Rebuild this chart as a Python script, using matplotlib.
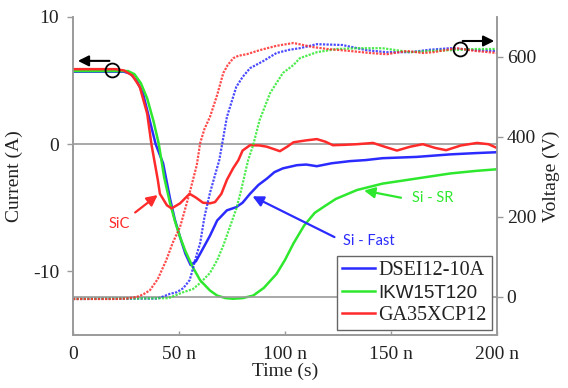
import matplotlib
matplotlib.use("Agg")
import matplotlib.pyplot as plt

plt.rcParams['axes.unicode_minus'] = False

# time in ns
t_red_i = [0, 20, 24, 28, 31.5, 35, 37, 40, 41, 44.3, 46.5, 50.5, 55, 58, 61.3, 64.6, 67, 70, 72.6, 75.5,
           78, 80, 83.5, 88, 91.5, 97.6, 101, 104, 110, 115, 119, 122.6, 128, 134, 141.5, 147,
           152.8, 159, 165, 171, 176, 183, 190.6, 196, 200]
i_red = [5.9, 5.9, 5.8, 5.4, 4.5, 2.4, 0.0, -2.8, -3.9, -4.8, -5.05, -4.65, -3.9, -4.2, -4.6, -4.65, -4.55,
         -3.9, -2.8, -1.9, -1.26, -0.5, -0.08, -0.1, -0.2, -0.55, -0.2, 0.15, 0.3, 0.4, 0.2, -0.08,
         -0.05, 0.0, 0.1, -0.2, -0.5, -0.2, 0.0, -0.3, -0.47, -0.1, 0.1, 0.0, -0.3]

t_blue_i = [0, 24, 27, 30, 33, 36, 39, 42.5, 45.8, 48, 50.5, 53, 55.5, 58, 60, 64.6, 68, 72.6, 77, 80,
            83.5, 87.5, 91.5, 95, 99, 105.6, 110, 115, 122, 130.7, 138, 146, 154, 162, 170, 178, 190, 200]
i_blue = [5.7, 5.7, 5.55, 5.0, 4.0, 2.0, 0.0, -1.5, -4.3, -5.9, -7.3, -8.6, -9.5, -9.2, -8.6, -7.2, -6.0,
          -5.2, -4.95, -4.6, -3.9, -3.2, -2.7, -2.2, -1.9, -1.65, -1.6, -1.73, -1.5, -1.33, -1.25, -1.1,
          -1.05, -1.0, -0.9, -0.8, -0.7, -0.63]

t_green_i = [0, 26, 29, 32, 35, 38, 40.5, 43, 45.8, 48, 50.5, 53, 56.6, 60, 64.6, 68, 72, 75.5, 80, 85,
             90, 96, 100, 104, 109, 114, 118, 124, 134, 146, 154, 162, 170, 178, 190, 200]
i_green = [5.75, 5.75, 5.5, 4.8, 3.6, 1.8, 0.0, -2.6, -4.65, -6.0, -7.3, -8.4, -9.7, -10.7, -11.5, -11.9,
           -12.1, -12.15, -12.1, -11.9, -11.3, -10.2, -9.1, -7.8, -6.4, -5.4, -4.95, -4.3, -3.6, -3.1,
           -2.9, -2.7, -2.5, -2.3, -2.1, -1.97]

t_red_v = [0, 20, 25, 30, 33, 36.3, 40, 44, 47, 50.5, 53, 55, 58.4, 60, 62, 64.6, 68, 70.9, 73, 75.6,
           78, 82, 88, 96, 104, 113, 120, 130.7, 140, 148, 157.5, 165, 170, 181, 190, 200]
v_red = [-5, -5, -4, 0, 6, 17, 45, 92, 135, 175, 222, 260, 330, 385, 420, 450, 505, 560, 580, 597,
         603, 607, 617, 628, 635, 625, 620, 615, 610, 607, 615, 610, 612, 622, 615, 610]

t_blue_v = [0, 40, 45.8, 49, 52, 55, 56, 58, 60, 62, 64.6, 67, 69, 72.6, 77, 80, 83.5, 89.8, 96, 102,
            107, 115, 127, 138.5, 148, 159, 168, 178, 190, 200]
v_blue = [-5, -4, 8, 12, 22, 42, 60, 100, 135, 200, 260, 305, 342, 450, 525, 550, 572, 590, 610, 618,
          622, 632, 630, 617, 612, 612, 618, 622, 617, 615]

t_green_v = [0, 45, 52, 56.6, 60, 64.6, 68, 71, 74, 77, 79, 82.6, 85, 88, 93, 99, 104, 107, 115, 124.5,
             135, 146, 159, 168, 178, 190, 200]
v_green = [-5, -3, 12, 20, 35, 60, 92, 130, 175, 220, 260, 342, 380, 442, 510, 560, 580, 597, 612, 620,
           622, 622, 612, 615, 617, 620, 620]

labels = ['DSEI12-10A', 'IKW15T120', 'GA35XCP12']
c_blue = '#2b2bff'
c_green = '#2ee82e'
c_red = '#ff2b2b'
grey = '#9a9a9a'

fig = plt.figure(figsize=(5.68, 3.88), dpi=100)
ax = fig.add_axes([0.1285, 0.1366, 0.7465, 0.8196])
ax2 = ax.twinx()

# reference lines at 0 A and 0 V
ax.axhline(0, color=grey, lw=1.2, zorder=1)
ax2.axhline(0, color=grey, lw=1.2, zorder=1)

# current (solid)
l_blue, = ax.plot(t_blue_i, i_blue, color=c_blue, lw=1.8, zorder=3)
l_green, = ax.plot(t_green_i, i_green, color=c_green, lw=1.8, zorder=3)
l_red, = ax.plot(t_red_i, i_red, color=c_red, lw=1.8, zorder=3)

# voltage (dotted)
dots = (0, (1, 0.6))
ax2.plot(t_blue_v, v_blue, color=c_blue, lw=1.6, ls=dots, alpha=0.85)
ax2.plot(t_green_v, v_green, color=c_green, lw=1.6, ls=dots, alpha=0.85)
ax2.plot(t_red_v, v_red, color=c_red, lw=1.6, ls=dots, alpha=0.85)

ax.set_xlim(0, 200)
ax.set_ylim(-15, 10)
ax2.set_ylim(-95, 700)

ax.set_xticks([0, 50, 100, 150, 200])
ax.set_xticklabels(['0', '50 n', '100 n', '150 n', '200 n'])
ax.set_yticks([10, 0, -10])
ax.set_yticklabels(['10', '0', '-10'])
ax2.set_yticks([0, 200, 400, 600])

serif = 'Liberation Serif'
for a in (ax, ax2):
    for s in a.spines.values():
        s.set_color(grey)
        s.set_linewidth(1.2)
    a.spines['top'].set_visible(False)
    for lab in a.get_xticklabels() + a.get_yticklabels():
        lab.set_fontfamily(serif)
        lab.set_fontsize(14)
        lab.set_color('#222222')

ax.tick_params(axis='y', direction='out', length=4, width=1, color=grey, pad=6)
ax.tick_params(axis='x', direction='in', length=3, width=1, color=grey, pad=8)
ax2.tick_params(axis='y', direction='out', length=4, width=1, color=grey, pad=3)

ax.set_xlabel('Time (s)', fontfamily=serif, fontsize=14, color='#222222', labelpad=0)
ax.set_ylabel('Current (A)', fontfamily=serif, fontsize=14, color='#222222', labelpad=7)
ax2.set_ylabel('Voltage (V)', fontfamily=serif, fontsize=14, color='#222222', rotation=90, labelpad=5)

# annotations
ax.annotate('', xy=(41, -3.86), xytext=(28.3, -5.5),
            arrowprops=dict(arrowstyle='-|>', color=c_red, lw=1.6, mutation_scale=16), zorder=5)
ax.text(22, -6.3, 'SiC', color=c_red, fontsize=10.5, fontfamily='Lato', ha='center', va='center')

ax.annotate('', xy=(83.5, -4.0), xytext=(124.5, -7.4),
            arrowprops=dict(arrowstyle='-|>', color=c_blue, lw=1.6, mutation_scale=16), zorder=5)
ax.text(127.5, -7.6, 'Si - Fast', color=c_blue, fontsize=10.5, fontfamily='Lato', ha='left', va='center')

ax.annotate('', xy=(136, -3.6), xytext=(156, -4.25),
            arrowprops=dict(arrowstyle='-|>', color=c_green, lw=1.6, mutation_scale=16), zorder=5)
ax.text(160, -4.25, 'Si - SR', color=c_green, fontsize=10.5, fontfamily='Lato', ha='left', va='center')

# axis indicators: circle + arrow
ax.plot([18.5], [5.83], marker='o', ms=10, mfc='none', mec='black', mew=1.3, zorder=6)
ax.annotate('', xy=(1, 6.55), xytext=(18.5, 6.55),
            arrowprops=dict(arrowstyle='-|>', color='black', lw=1.5, mutation_scale=16), zorder=6)
ax2.plot([182.5], [620], marker='o', ms=10, mfc='none', mec='black', mew=1.3, zorder=6, clip_on=False)
ax2.annotate('', xy=(200, 640), xytext=(182.5, 640),
             arrowprops=dict(arrowstyle='-|>', color='black', lw=1.5, mutation_scale=16), zorder=6,
             annotation_clip=False)

leg = ax2.legend([l_blue, l_green, l_red], labels, loc='lower right', frameon=True, fancybox=False,
                 edgecolor='#666666', framealpha=1, prop={'family': serif, 'size': 14.5},
                 handlelength=1.6, handletextpad=0.2, labelspacing=0.2, borderpad=0.25,
                 borderaxespad=0.25)
leg.get_frame().set_linewidth(1.0)
leg.get_texts()[1].set_fontfamily('Liberation Sans')
leg.get_texts()[1].set_fontsize(13.5)
for t in leg.get_texts():
    t.set_color('#222222')

fig.savefig('out.png', dpi=100)
